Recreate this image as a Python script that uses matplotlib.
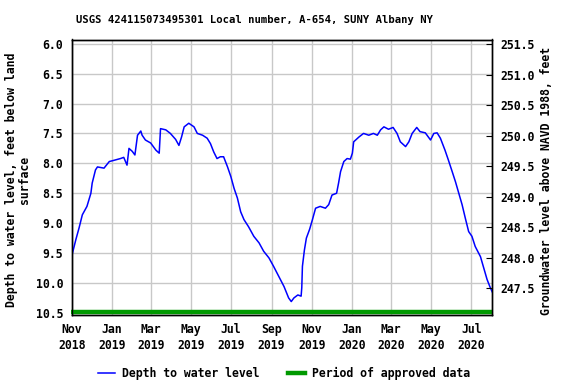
import matplotlib
matplotlib.use("Agg")
import matplotlib.pyplot as plt
import pandas as pd
from matplotlib.lines import Line2D

title = "USGS 424115073495301 Local number, A-654, SUNY Albany NY"

dates = [
    "2018-11-02", "2018-11-07", "2018-11-12", "2018-11-17", "2018-11-24", "2018-11-30",
    "2018-12-02", "2018-12-07", "2018-12-10", "2018-12-20", "2018-12-28",
    "2019-01-04", "2019-01-14", "2019-01-19", "2019-01-24", "2019-01-27",
    "2019-02-01", "2019-02-05", "2019-02-09", "2019-02-14", "2019-02-16", "2019-02-21",
    "2019-03-01", "2019-03-09", "2019-03-14", "2019-03-16", "2019-03-24", "2019-03-31",
    "2019-04-08", "2019-04-13", "2019-04-17", "2019-04-21", "2019-04-28",
    "2019-05-06", "2019-05-11", "2019-05-19", "2019-05-26", "2019-05-31",
    "2019-06-05", "2019-06-10", "2019-06-15", "2019-06-20", "2019-06-26",
    "2019-07-01", "2019-07-06", "2019-07-11", "2019-07-16", "2019-07-21", "2019-07-28",
    "2019-08-05", "2019-08-13", "2019-08-20", "2019-08-28",
    "2019-09-04", "2019-09-12", "2019-09-20", "2019-09-27",
    "2019-10-01", "2019-10-05", "2019-10-11", "2019-10-16", "2019-10-17", "2019-10-18",
    "2019-10-21", "2019-10-24", "2019-10-29",
    "2019-11-02", "2019-11-07", "2019-11-14", "2019-11-22", "2019-11-27",
    "2019-12-02", "2019-12-09", "2019-12-12", "2019-12-15", "2019-12-20", "2019-12-25", "2019-12-30",
    "2020-01-02", "2020-01-04", "2020-01-12", "2020-01-19", "2020-01-27",
    "2020-02-03", "2020-02-09", "2020-02-14", "2020-02-19", "2020-02-26",
    "2020-03-04", "2020-03-10", "2020-03-15", "2020-03-23", "2020-03-28",
    "2020-04-02", "2020-04-09", "2020-04-14", "2020-04-22", "2020-04-30",
    "2020-05-05", "2020-05-10", "2020-05-15", "2020-05-22", "2020-05-27",
    "2020-06-02", "2020-06-07", "2020-06-12", "2020-06-17", "2020-06-22", "2020-06-27",
    "2020-07-02", "2020-07-07", "2020-07-15", "2020-07-20", "2020-07-25", "2020-07-30",
    "2020-08-02",
]
depth = [
    9.50, 9.28, 9.08, 8.86, 8.72, 8.50,
    8.33, 8.11, 8.06, 8.08, 7.97,
    7.95, 7.92, 7.90, 8.03, 7.75,
    7.80, 7.86, 7.53, 7.46, 7.53, 7.61,
    7.66, 7.78, 7.83, 7.42, 7.44, 7.50,
    7.60, 7.70, 7.56, 7.39, 7.33,
    7.39, 7.50, 7.53, 7.58, 7.67,
    7.81, 7.92, 7.89, 7.89, 8.06,
    8.22, 8.42, 8.58, 8.81, 8.94, 9.06,
    9.22, 9.33, 9.47, 9.58,
    9.72, 9.89, 10.06, 10.25,
    10.31, 10.25, 10.20, 10.22, 10.08, 9.72,
    9.45, 9.25, 9.10,
    8.95, 8.75, 8.72, 8.75, 8.69,
    8.53, 8.50, 8.33, 8.14, 7.97, 7.92, 7.93,
    7.83, 7.64, 7.56, 7.50, 7.53,
    7.50, 7.53, 7.44, 7.39, 7.43,
    7.40, 7.50, 7.64, 7.72, 7.64,
    7.50, 7.40, 7.47, 7.49, 7.61,
    7.50, 7.49, 7.58, 7.78, 7.94,
    8.14, 8.31, 8.50, 8.69, 8.92, 9.14,
    9.22, 9.39, 9.56, 9.75, 9.94, 10.08,
    10.15,
]
approved_start = "2018-10-30"
approved_end = "2020-08-02"
approved_level = 10.48

y_ticks = [6.0, 6.5, 7.0, 7.5, 8.0, 8.5, 9.0, 9.5, 10.0, 10.5]
y2_ticks = [247.5, 248.0, 248.5, 249.0, 249.5, 250.0, 250.5, 251.0, 251.5]
x_ticks = ["2018-11-01", "2019-01-01", "2019-03-01", "2019-05-01", "2019-07-01",
           "2019-09-01", "2019-11-01", "2020-01-01", "2020-03-01", "2020-05-01", "2020-07-01"]
x_ticklabels = ["Nov\n2018", "Jan\n2019", "Mar\n2019", "May\n2019", "Jul\n2019", "Sep\n2019",
                "Nov\n2019", "Jan\n2020", "Mar\n2020", "May\n2020", "Jul\n2020"]

FONT = "DejaVu Sans Mono"
plt.rcParams["font.family"] = [FONT]
plt.rcParams["font.weight"] = "bold"

fig = plt.figure(figsize=(5.76, 3.84), dpi=100)
ax = fig.add_axes([71.5 / 576, 1 - 315 / 384, (492.3 - 71.5) / 576, (315 - 39.5) / 384])

d = pd.to_datetime(dates)
ax.plot(d, depth, color="#0000ff", lw=1.1, zorder=3)
ax.plot(pd.to_datetime([approved_start, approved_end]), [approved_level, approved_level],
        color="#009900", lw=3.2, solid_capstyle="butt", zorder=4, clip_on=False)

ax.set_xlim(pd.Timestamp("2018-10-31 12:00"), pd.Timestamp("2020-08-02"))
ax.set_ylim(10.535, 5.93)
ax.set_yticks(y_ticks)
ax.set_yticklabels([f"{v:.1f}" for v in y_ticks], fontsize=8.3, fontweight="bold")
ax.set_xticks(pd.to_datetime(x_ticks))
ax.set_xticklabels(x_ticklabels, fontsize=8.3, fontweight="bold", linespacing=1.25)
ax.grid(True, color="#c8c8c8", lw=1.0)
ax.set_axisbelow(True)
ax.tick_params(axis="both", length=0, pad=6)
for s in ax.spines.values():
    s.set_linewidth(1.0)

ax2 = ax.twinx()
ax2.set_ylim(247.06, 251.58)
ax2.set_yticks(y2_ticks)
ax2.set_yticklabels([f"{v:.1f}" for v in y2_ticks], fontsize=8.3, fontweight="bold")
ax2.tick_params(axis="y", length=4, direction="in", pad=6)
for s in ax2.spines.values():
    s.set_linewidth(1.0)

fig.text(254.5 / 576, 1 - 20 / 384, title, ha="center", va="center",
         fontsize=7.6, fontweight="bold")
fig.text(18 / 576, 1 - 180 / 384, "Depth to water level, feet below land\nsurface",
         rotation=90, ha="center", va="center", fontsize=8.3, fontweight="bold",
         linespacing=1.05, multialignment="center")
fig.text(547 / 576, 1 - 181 / 384, "Groundwater level above NAVD 1988, feet",
         rotation=90, ha="center", va="center", fontsize=8.3, fontweight="bold")

handles = [Line2D([], [], color="#0000ff", lw=1.1),
           Line2D([], [], color="#009900", lw=3.2)]
fig.legend(handles, ["Depth to water level", "Period of approved data"],
           loc="center", bbox_to_anchor=(284 / 576, 1 - 373 / 384), ncol=2, frameon=False,
           prop={"family": FONT, "weight": "bold", "size": 8.3},
           handlelength=1.5, columnspacing=2.5, handletextpad=0.6)

fig.savefig("out.png", dpi=100)
